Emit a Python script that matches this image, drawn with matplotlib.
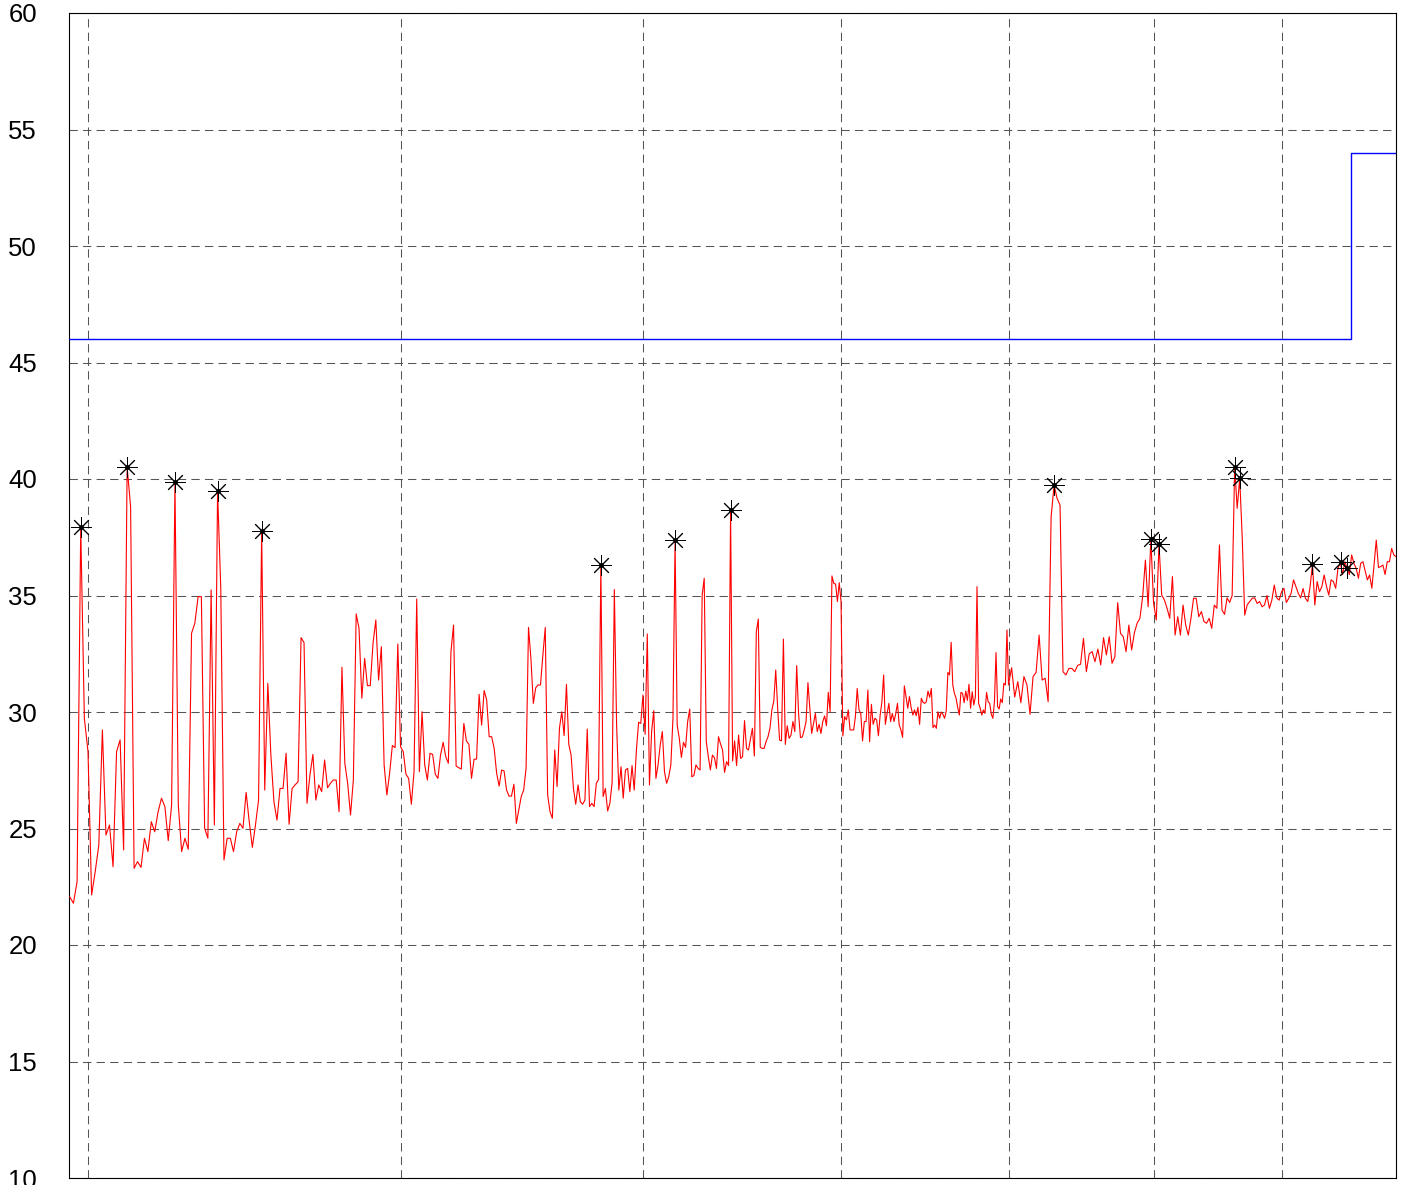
import numpy as np
import matplotlib
matplotlib.use("Agg")
import matplotlib.pyplot as plt

plt.rcParams['font.family'] = ['Liberation Sans', 'DejaVu Sans']

# ---------------- data ----------------
# frequency grid segments (log x axis, no tick labels)
freq_a = np.linspace(2.95, 3.99, 105)
freq_b = np.linspace(4.00, 4.99, 100)
freq_c = np.linspace(5.00, 5.99, 100)
freq_d = np.linspace(6.00, 6.99, 100)
freq_e = np.linspace(7.00, 10.00, 151)

level_a = [22.07, 21.79, 22.72, 37.94, 29.73,
           28.30, 22.15, 23.15, 24.29, 29.23, 24.72, 25.15, 23.36, 28.30, 28.80,
           24.08, 40.52, 38.81, 23.29, 23.58, 23.33, 24.58, 24.01, 25.29, 24.86,
           25.72, 26.30, 25.94, 24.48, 26.01, 39.87, 26.01, 24.01, 24.58, 24.11,
           33.38, 33.81, 34.95, 34.95, 25.01, 24.58, 35.24, 25.15, 39.48, 35.31,
           23.65, 24.58, 24.58, 24.01, 24.86, 25.22, 25.01, 26.55, 25.29, 24.19,
           25.15, 26.22, 37.77, 26.65, 31.23, 28.15, 26.15, 25.36, 26.72, 26.72,
           28.23, 25.18, 26.72, 26.87, 27.01, 33.19, 32.98, 26.08, 27.30, 28.18,
           26.22, 26.87, 26.58, 27.94, 26.75, 26.94, 27.08, 27.08, 25.72, 31.92,
           27.80, 26.94, 25.58, 27.08, 34.21, 33.59, 30.59, 32.30, 31.13, 31.13,
           32.95, 33.95, 31.37, 32.80, 27.73, 26.44, 27.37, 28.56, 28.47, 32.92]

level_b = [28.51, 28.30, 27.33, 27.15, 26.04, 27.44, 34.85, 27.44, 30.01, 27.73,
           27.08, 28.23, 28.18, 27.33, 27.15, 28.15, 28.70, 28.08, 27.80, 32.59,
           33.73, 27.68, 27.61, 27.55, 29.51, 28.76, 28.61, 27.15, 27.97, 27.98,
           30.76, 29.44, 30.92, 30.52, 28.94, 28.94, 28.44, 27.37, 26.82, 27.51,
           27.47, 26.65, 26.39, 26.39, 26.90, 25.22, 25.79, 26.37, 26.65, 27.58,
           33.63, 32.30, 30.37, 31.04, 31.16, 31.16, 32.45, 33.63, 26.44, 25.72,
           25.44, 28.37, 26.80, 29.30, 30.01, 28.99, 31.19, 28.61, 28.15, 26.72,
           26.04, 26.87, 26.15, 26.04, 26.22, 29.27, 25.94, 26.08, 25.94, 26.94,
           27.11, 36.31, 26.37, 26.72, 25.75, 26.08, 26.97, 35.26, 29.51, 26.65,
           27.65, 26.30, 27.51, 27.58, 26.58, 27.70, 26.65, 28.37, 29.56, 29.51]

level_c = [30.73, 29.04, 33.35, 26.87, 29.16, 30.06, 27.15, 27.73, 28.58, 29.16,
           27.44, 26.94, 27.22, 27.73, 29.73, 37.38, 29.44, 28.87, 28.05, 28.70,
           28.48, 29.59, 30.13, 27.22, 27.27, 27.73, 27.58, 27.51, 35.02, 35.74,
           28.73, 28.08, 27.51, 28.15, 28.04, 27.58, 28.94, 28.63, 28.37, 27.41,
           27.87, 27.70, 38.67, 27.90, 28.76, 27.70, 29.01, 28.01, 28.08, 29.63,
           28.44, 28.37, 28.83, 29.30, 28.11, 33.45, 33.99, 28.48, 28.44, 28.44,
           28.73, 28.94, 29.30, 30.09, 30.47, 31.80, 30.16, 28.80, 28.76, 33.13,
           28.61, 29.41, 28.87, 29.01, 29.59, 29.16, 31.99, 29.94, 28.90, 28.93,
           29.23, 29.59, 31.26, 30.16, 29.08, 29.51, 29.94, 29.16, 29.47, 29.08,
           29.59, 29.83, 29.41, 30.84, 30.01, 35.84, 35.52, 35.49, 34.74, 35.55]

level_d = [34.74, 28.97, 29.80, 29.66, 30.09, 29.23, 29.23, 29.23, 29.80, 31.01,
           30.09, 29.94, 28.76, 29.59, 29.59, 30.94, 28.73, 30.33, 29.47, 29.73,
           29.66, 28.98, 29.87, 30.44, 31.59, 29.47, 29.94, 30.37, 29.59, 29.94,
           29.59, 29.94, 30.37, 29.44, 29.23, 28.91, 31.12, 30.66, 30.16, 30.66,
           30.19, 29.87, 30.09, 29.84, 30.20, 29.47, 30.59, 30.42, 30.37, 30.44,
           30.90, 30.63, 31.01, 29.33, 29.44, 29.30, 30.01, 29.73, 30.00, 29.90,
           29.73, 30.04, 31.70, 31.59, 32.99, 31.16, 30.80, 30.60, 30.20, 29.87,
           30.84, 30.80, 30.40, 30.90, 30.50, 31.19, 30.16, 30.87, 30.30, 30.66,
           35.38, 30.37, 30.16, 29.87, 30.09, 29.94, 30.84, 30.44, 30.37, 29.90,
           29.73, 30.44, 32.55, 30.23, 30.13, 30.56, 30.40, 31.23, 31.16, 33.52]

level_e = [31.16, 31.90, 30.64, 31.30, 30.40, 31.52, 31.16, 29.90, 31.52, 31.70,
           33.30, 31.37, 31.45, 30.44, 38.38, 39.74, 39.17, 38.88, 31.73, 31.59,
           31.87, 31.87, 31.73, 32.00, 32.05, 33.16, 31.73, 32.50, 32.59, 32.16,
           32.70, 32.02, 33.19, 32.45, 33.23, 32.09, 32.37, 34.69, 33.38, 33.23,
           32.59, 33.73, 32.66, 33.40, 33.81, 34.02, 34.95, 36.52, 34.52, 37.42,
           34.66, 33.95, 37.20, 35.02, 34.81, 34.45, 34.02, 35.81, 33.30, 34.09,
           33.30, 34.59, 33.73, 33.30, 34.02, 34.88, 34.88, 34.09, 34.31, 33.88,
           33.81, 34.02, 33.59, 34.59, 34.45, 37.17, 34.38, 34.19, 34.90, 34.70,
           35.00, 40.52, 38.74, 40.03, 37.50, 34.16, 34.60, 34.74, 34.88, 34.90,
           34.66, 34.74, 34.52, 34.59, 35.00, 34.45, 34.80, 35.45, 34.90, 34.80,
           35.16, 35.31, 34.70, 34.88, 35.10, 35.67, 35.38, 35.09, 34.90, 35.30,
           34.88, 34.74, 35.40, 36.34, 34.59, 35.60, 35.16, 35.38, 35.88, 35.40,
           35.02, 35.67, 35.60, 35.31, 36.17, 36.42, 35.90, 36.45, 36.17, 35.90,
           36.74, 36.38, 36.17, 35.74, 36.38, 36.45, 36.05, 35.67, 35.88, 35.31,
           36.31, 37.38, 36.20, 36.24, 36.31, 35.90, 36.45, 36.45, 37.02, 36.74,
           36.67]

# detected peaks (asterisks)
peak_freq = [2.98, 3.11, 3.25, 3.38, 3.52, 4.81, 5.15, 5.42,
             7.30, 7.98, 8.04, 8.62, 8.66, 9.26, 9.51, 9.56]
peak_level = [37.94, 40.52, 39.87, 39.48, 37.77, 36.31, 37.38, 38.67,
              39.74, 37.42, 37.20, 40.52, 40.03, 36.34, 36.42, 36.17]

# threshold (blue step)
thr_freq = [2.948, 9.59, 9.59, 10.0]
thr_level = [46, 46, 54, 54]

x_grid = [3, 4, 5, 6, 7, 8, 9]
y_ticks = [10, 15, 20, 25, 30, 35, 40, 45, 50, 55, 60]

# ---------------- plot ----------------
freq = np.concatenate([freq_a, freq_b, freq_c, freq_d, freq_e])
level = np.concatenate([level_a, level_b, level_c, level_d, level_e])

fig = plt.figure(figsize=(14.01, 11.85), dpi=100)
ax = fig.add_axes([69 / 1401, 7 / 1185, 1327 / 1401, 1165 / 1185])

ax.plot(thr_freq, thr_level, color='#0000ff', lw=1.0, zorder=3)
ax.plot(freq, level, color='#ff0000', lw=0.8, zorder=3)
ax.plot(peak_freq, peak_level, linestyle='none', marker=(8, 2, 0),
        markersize=15, markeredgewidth=0.7, color='black', zorder=4)
ax.plot(peak_freq, peak_level, linestyle='none', marker='o',
        markersize=2.5, color='black', zorder=5)

ax.set_xscale('log')
ax.set_xlim(2.948, 10.0)
ax.set_ylim(10, 60)
ax.set_xticks(x_grid)
ax.xaxis.set_minor_locator(matplotlib.ticker.NullLocator())
ax.set_xticklabels([])
ax.set_yticks(y_ticks)
ax.set_yticklabels([str(v) for v in y_ticks], fontsize=18.5)
ax.tick_params(axis='both', length=0, pad=23)
for lab in ax.get_yticklabels():
    lab.set_horizontalalignment('right')

ax.grid(True, which='major', color='#555555', linestyle=(0, (8, 5)),
        linewidth=0.75, zorder=1)
ax.set_axisbelow(True)
for s in ax.spines.values():
    s.set_linewidth(0.8)
    s.set_color('black')

fig.savefig('out.png', dpi=100)
